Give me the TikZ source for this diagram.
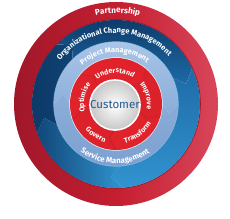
\documentclass[tikz,border=0pt]{standalone}
\usepackage{fontspec}
\setmainfont{Fira Sans}
\usetikzlibrary{decorations.text}
\definecolor{ptRed}{HTML}{C41F30}
\definecolor{ptRedDark}{HTML}{A0172A}
\definecolor{ptRedLight}{HTML}{D9465A}
\definecolor{ocNavy}{HTML}{0C3866}
\definecolor{ocBlue}{HTML}{1E6AA6}
\definecolor{ocCyan}{HTML}{3194CF}
\definecolor{pmBlue}{HTML}{8AADD9}
\definecolor{pmLight}{HTML}{A9C5E8}
\definecolor{pmDark}{HTML}{7598CA}
\definecolor{cyRed}{HTML}{E0222A}
\definecolor{cyRedDark}{HTML}{BE1921}
\definecolor{custBlue}{HTML}{1F5A92}

\begin{document}
\begin{tikzpicture}[x=1pt, y=1pt,
  arctext/.style={decorate, decoration={text along path, text align=center,
                  text color=white, text={#1}}},
  ocA/.style={top color=ocNavy, bottom color=ocBlue},
  ocB/.style={left color=ocNavy, right color=ocNavy!80!ocBlue},
  ocC/.style={top color=ocBlue, bottom color=ocCyan},
  ocD/.style={left color=ocNavy!70!ocBlue, right color=ocCyan},
  pmA/.style={top color=pmLight, bottom color=pmBlue},
  pmB/.style={top color=pmBlue, bottom color=pmDark!60!pmBlue},
  cyA/.style={fill=cyRed},
  cyB/.style={fill=cyRed!85!cyRedDark}
]
  \useasboundingbox[fill=white] (-116,-115) rectangle (114,104);

  % partnership ring
  \shade[even odd rule, left color=ptRedDark, right color=ptRedLight,
         middle color=ptRed] (0,0) circle (102) (0,0) circle (84);
  \draw[ptRedDark, line width=0.8pt] (0,0) circle (84.4);

  % organizational change management ring
  \foreach \s/\e/\st in {200/135/ocB, 135/25/ocA, 25/-85/ocC, -85/-160/ocD}
    \path[\st] (\s:84) arc[start angle=\s, end angle=\e, radius=84]
      -- ({\e-9}:73) -- (\e:62) arc[start angle=\e, end angle=\s, radius=62]
      -- ({\s-9}:73) -- cycle;
  \draw[ocCyan!60!white, line width=0.6pt] (0,0) circle (62.3);

  % project / service management ring
  \foreach \s/\e/\st in {180/0/pmA, 0/-180/pmB}
    \path[\st] (\s:62) arc[start angle=\s, end angle=\e, radius=62]
      -- ({\e-10}:54) -- (\e:46) arc[start angle=\e, end angle=\s, radius=46]
      -- ({\s-10}:54) -- cycle;
  \draw[white!85!pmBlue, line width=0.8pt] (0,0) circle (46.3);

  % inner cycle
  \foreach \s/\e/\st in {140/50/cyA, 50/-15/cyB, -15/-90/cyA, -90/-160/cyB, 200/140/cyA}
    \path[\st] (\s:46) arc[start angle=\s, end angle=\e, radius=46]
      -- ({\e-11}:34.5) -- (\e:23) arc[start angle=\e, end angle=\s, radius=23]
      -- ({\s-11}:34.5) -- cycle;
  \foreach \a in {140, 50, -15, -90, 200}
    \draw[cyRedDark, line width=0.5pt] (\a:46) -- ({\a-11}:34.5) -- (\a:23);

  % customer
  \node[circle, minimum size=46pt, inner sep=0pt, draw=white, line width=1.5pt,
        inner color=white, outer color=black!22, font=\fontsize{11.5}{13}\selectfont,
        text=custBlue] (cust) at (-1,-1) {Customer};

  % ring labels
  \path[arctext={|\bfseries\fontsize{8.2}{9}\selectfont|Partnership}]
    (170:91) arc[start angle=170, end angle=8, radius=91];
  \path[arctext={|\bfseries\fontsize{7.5}{8}\selectfont|Organizational Change Management}]
    (172:71) arc[start angle=172, end angle=12, radius=71];
  \path[arctext={|\bfseries\fontsize{7.4}{8}\selectfont|Project Management}]
    (170:51.5) arc[start angle=170, end angle=14, radius=51.5];
  \path[arctext={|\bfseries\fontsize{7.8}{8}\selectfont|Service Management}]
    (190:59.5) arc[start angle=190, end angle=348, radius=59.5];

  % cycle labels
  \path[arctext={|\bfseries\fontsize{7.1}{8}\selectfont|Understand}]
    (162:31) arc[start angle=162, end angle=22, radius=31];
  \path[arctext={|\bfseries\fontsize{7.1}{8}\selectfont|Improve}]
    (75:31) arc[start angle=75, end angle=-45, radius=31];
  \path[arctext={|\bfseries\fontsize{7.1}{8}\selectfont|Optimise}]
    (228:32) arc[start angle=228, end angle=108, radius=32];
  \path[arctext={|\bfseries\fontsize{7.1}{8}\selectfont|Govern}]
    (187:40) arc[start angle=187, end angle=287, radius=40];
  \path[arctext={|\bfseries\fontsize{7.1}{8}\selectfont|Transform}]
    (257:40) arc[start angle=257, end angle=357, radius=40];
\end{tikzpicture}
\end{document}
